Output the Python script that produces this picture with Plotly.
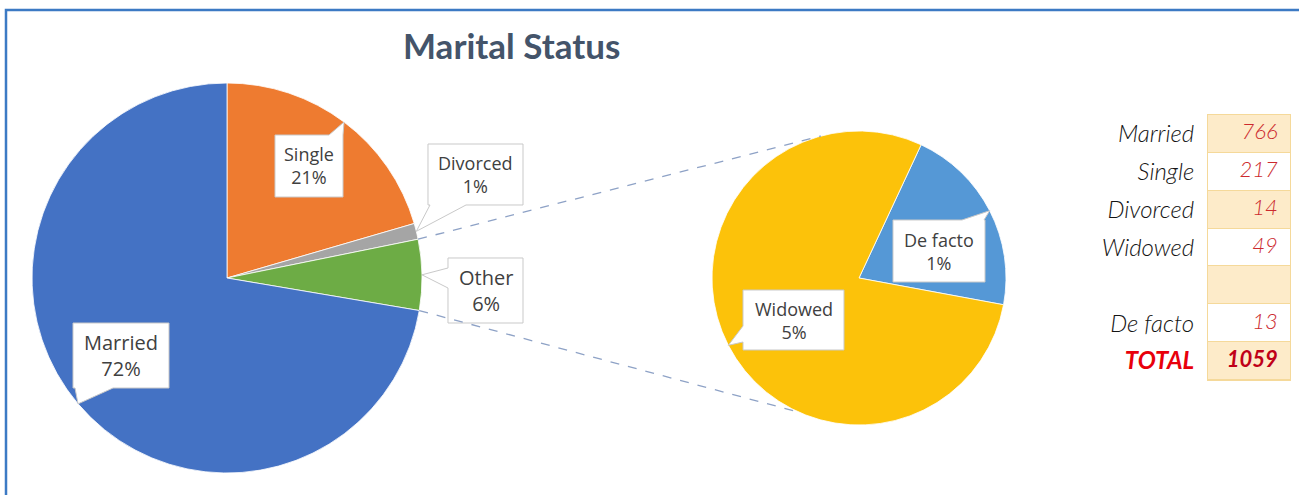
import math
import plotly.graph_objects as go

# ---------------- data ----------------
categories = ["Married", "Single", "Divorced", "Widowed", "De facto"]
counts = [766, 217, 14, 49, 13]

main_labels = ["Single", "Divorced", "Other", "Married"]
second_labels = ["De facto", "Widowed"]
pct_text = {"Married": "72%", "Single": "21%", "Divorced": "1%", "Other": "6%",
            "Widowed": "5%", "De facto": "1%"}

table_labels = ["Married", "Single", "Divorced", "Widowed", "", "De facto", "TOTAL"]

# ---------------- derived values ----------------
cnt = dict(zip(categories, counts))
other_total = cnt["Widowed"] + cnt["De facto"]
main_values = [cnt["Single"], cnt["Divorced"], other_total, cnt["Married"]]
second_values = [cnt["De facto"], cnt["Widowed"]]
grand_total = sum(counts)
table_values = [str(cnt["Married"]), str(cnt["Single"]), str(cnt["Divorced"]),
                str(cnt["Widowed"]), "", str(cnt["De facto"]), str(grand_total)]

# ---------------- layout geometry (pixels) ----------------
W, H = 1299, 495
MAIN_C, MAIN_R = (227, 278), 195
SEC_C, SEC_R = (859, 278), 147
SEC_ROT = 25


def px(x, y):
    return x / W, 1 - y / H


def on_circle(c, r, ang):
    a = math.radians(ang)
    return c[0] + r * math.sin(a), c[1] - r * math.cos(a)


def domain(c, r):
    return dict(x=[(c[0] - r) / W, (c[0] + r) / W],
                y=[1 - (c[1] + r) / H, 1 - (c[1] - r) / H])


def slice_angles(values, rot):
    tot = sum(values)
    out, cur = [], rot
    for v in values:
        span = 360 * v / tot
        out.append((cur, cur + span))
        cur += span
    return out


main_ang = dict(zip(main_labels, slice_angles(main_values, 0)))
sec_ang = dict(zip(second_labels, slice_angles(second_values, SEC_ROT)))

main_colors = ["#EE7B30", "#A5A5A5", "#6DAC45", "#4472C4"]
second_colors = ["#5598D6", "#FCC20A"]

fig = go.Figure()
fig.add_trace(go.Pie(labels=main_labels, values=main_values, sort=False,
                     direction="clockwise", rotation=0, textinfo="none",
                     hoverinfo="label+value+percent",
                     marker=dict(colors=main_colors, line=dict(color="white", width=0.8)),
                     domain=domain(MAIN_C, MAIN_R), showlegend=False))
fig.add_trace(go.Pie(labels=second_labels, values=second_values, sort=False,
                     direction="clockwise", rotation=SEC_ROT, textinfo="none",
                     hoverinfo="label+value+percent",
                     marker=dict(colors=second_colors, line=dict(color="white", width=0.8)),
                     domain=domain(SEC_C, SEC_R), showlegend=False))

# ---------------- table (heatmap cells + text) ----------------
peach, white, border = "#FDEBC9", "#FFFFFF", "#F5D99A"
rows = list(range(len(table_labels)))
stripe = [[1 - (i % 2)] for i in rows]
fig.add_trace(go.Heatmap(x=[0], y=rows, z=stripe, colorscale=[[0, white], [1, peach]],
                         zmin=0, zmax=1, showscale=False, xgap=0, ygap=1,
                         hoverinfo="skip", xaxis="x", yaxis="y"))
val_txt = [f"<i>{t}</i>" if t else "" for t in table_values]
val_txt[-1] = f"<b><i>{table_values[-1]}</i></b>"
val_col = ["#CC2A2E"] * (len(rows) - 1) + ["#C00018"]
fig.add_trace(go.Scatter(x=[0.35] * len(rows), y=rows, mode="text", text=val_txt,
                         textposition="middle left",
                         textfont=dict(family="Lato", size=22, color=val_col, weight=300),
                         hoverinfo="skip", showlegend=False, xaxis="x", yaxis="y"))
lab_txt = [f"<i>{t}</i>" if t else "" for t in table_labels]
lab_txt[-1] = f"<b><i><span style='color:#E8000B'>{table_labels[-1]}</span></i></b>"

# ---------------- callouts ----------------
shapes, annotations = [], []


def callout(box, side, base, tip, text, size):
    x0, y0, x1, y1 = box
    pts = [(x0, y0)]
    if side == "top":
        pts += [(base[0], y0), tip, (base[1], y0)]
    pts += [(x1, y0), (x1, y1)]
    if side == "bottom":
        pts += [(base[1], y1), tip, (base[0], y1)]
    pts += [(x0, y1)]
    if side == "left":
        pts += [(x0, base[1]), tip, (x0, base[0])]
    path = "M " + " L ".join("%.5f,%.5f" % px(*p) for p in pts) + " Z"
    shapes.append(dict(type="path", xref="paper", yref="paper", path=path,
                       fillcolor="white", line=dict(color="#C9C9C9", width=1)))
    cx, cy = px((x0 + x1) / 2, (y0 + y1) / 2)
    annotations.append(dict(x=cx, y=cy, xref="paper", yref="paper", text=text,
                            showarrow=False, align="center",
                            xanchor="center", yanchor="middle",
                            font=dict(family="Open Sans", size=size, color="#404040")))


def mid(a):
    return (a[0] + a[1]) / 2


callout_spec = [
    ("Married", (73, 323, 169, 388), "bottom", (75, 113), 20),
    ("Single", (275, 135, 343, 197), "top", (329, 343), 18),
    ("Divorced", (428, 144, 523, 205), "bottom", (430, 466), 18),
    ("Other", (448, 258, 523, 323), "left", (268, 288), 20),
    ("Widowed", (743, 290, 844, 350), "left", (326, 342), 18),
    ("De facto", (893, 220, 985, 282), "top", (962, 984), 18),
]
for name, box, side, base, size in callout_spec:
    if name in main_ang:
        tip = on_circle(MAIN_C, MAIN_R, mid(main_ang[name]))
    else:
        tip = on_circle(SEC_C, SEC_R, mid(sec_ang[name]))
    callout(box, side, base, tip, f"{name}<br>{pct_text[name]}", size)

# ---------------- connector lines ----------------
o0, o1 = main_ang["Other"]
for a_main, a_sec in [(o0, -15), (o1, 204)]:
    p0 = px(*on_circle(MAIN_C, MAIN_R, a_main))
    p1 = px(*on_circle(SEC_C, SEC_R, a_sec))
    shapes.append(dict(type="line", xref="paper", yref="paper",
                       x0=p0[0], y0=p0[1], x1=p1[0], y1=p1[1],
                       line=dict(color="#8EA2C6", width=1.3, dash="dash")))

# ---------------- frame ----------------
fx0, fy0 = px(6, 10)
fx1, fy1 = px(1310, 505)
shapes.append(dict(type="rect", xref="paper", yref="paper", x0=fx0, y0=fy0,
                   x1=fx1, y1=fy1, line=dict(color="#3C7AC4", width=2.5),
                   fillcolor="rgba(0,0,0,0)"))

# ---------------- title ----------------
tx, ty = px(511, 45)
annotations.append(dict(x=tx, y=ty, xref="paper", yref="paper", text="Marital Status",
                        showarrow=False, xanchor="center", yanchor="middle",
                        font=dict(family="Lato", size=35, weight="bold", color="#44546A")))

fig.update_layout(
    width=W, height=H, margin=dict(l=0, r=0, t=0, b=0),
    paper_bgcolor="white", plot_bgcolor=border,
    shapes=shapes, annotations=annotations,
    xaxis=dict(domain=[1208 / W, 1290 / W], range=[-0.5, 0.5], showticklabels=False,
               showgrid=False, zeroline=False, showline=True, mirror=True,
               linecolor=border, linewidth=1, fixedrange=True),
    yaxis=dict(domain=[1 - 380 / H, 1 - 115 / H], range=[len(rows) - 0.5, -0.5],
               tickmode="array", tickvals=rows, ticktext=lab_txt, ticks="",
               ticklabelstandoff=8, showgrid=False, zeroline=False,
               showline=True, mirror=True, linecolor=border, linewidth=1,
               tickfont=dict(family="Lato", size=24, color="#141414", weight=300),
               fixedrange=True),
)

fig.write_html("out.html", config={"displayModeBar": False},
               post_script="document.body.style.margin='0px';")
